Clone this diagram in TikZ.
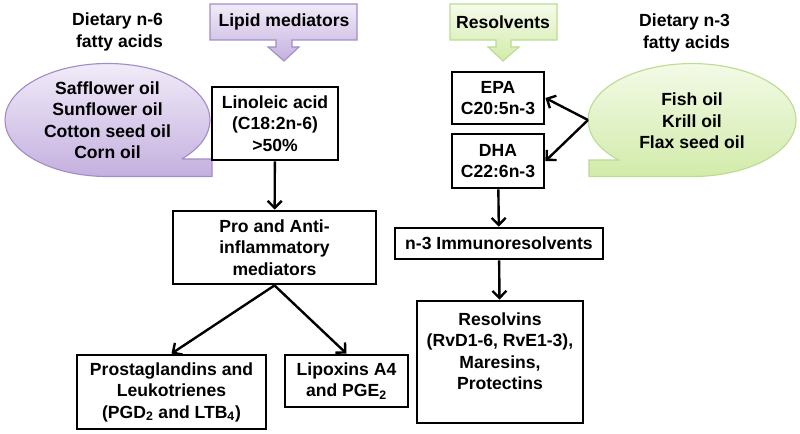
\documentclass[tikz,border=0pt]{standalone}
\usepackage{fontspec}
\setmainfont{Liberation Sans}
\usetikzlibrary{arrows.meta}
\definecolor{lilaL}{HTML}{F1EBF8}
\definecolor{lilaD}{HTML}{C4B0DF}
\definecolor{lilaR}{HTML}{A28DC8}
\definecolor{gruenL}{HTML}{F5FBEA}
\definecolor{gruenD}{HTML}{D2EBAA}
\definecolor{gruenR}{HTML}{BBDC92}
\begin{document}
\begin{tikzpicture}[x=0.025cm,y=-0.025cm,>={Straight Barb[length=5pt,width=10pt]},
   font=\bfseries\fontsize{12.5}{15.3}\selectfont,
   box/.style={draw,line width=2pt,align=center,inner sep=0pt},
   conn/.style={->,line width=1.7pt},
   lila/.style={draw=lilaR,line width=0.8pt,top color=lilaL,bottom color=lilaD},
   gruen/.style={draw=gruenR,line width=0.8pt,top color=gruenL,bottom color=gruenD}]
   \useasboundingbox (0,0) rectangle (800,433);

   % n-6 side
   \node [anchor=east,align=right] (diet6) at (168,32) {Dietary n-6\\fatty acids};
   \draw [lila] (210,4) -- (357,4) -- (357,40) -- (292,40) -- (292,47) -- (299,47)
      -- (284,61) -- (268,47) -- (276,47) -- (276,40) -- (210,40) -- cycle;
   \node (lipid) at (284,22) {Lipid mediators};
   \draw [lila] (183,159) -- (212,159) -- (212,176.5) -- (107.5,176.5)
      arc [start angle=90,end angle=403,x radius=102.5,y radius=56.5] -- cycle;
   \node [align=center] (oil6) at (107.5,120) {Safflower oil\\Sunflower oil\\Cotton seed oil\\Corn oil};

   \node [box,minimum width=3.15cm,minimum height=1.825cm] (linoleic) at (275,123.5) {Linoleic acid\\(C18:2n-6)\\>50\%};
   \node [box,minimum width=5.075cm,minimum height=1.825cm] (pro) at (274.5,247.5) {Pro and Anti-\\inflammatory\\mediators};
   \node [box,minimum width=4.725cm,minimum height=1.85cm] (prosta) at (171.5,392) {Prostaglandins and\\Leukotrienes\\(PGD\textsubscript{2} and LTB\textsubscript{4})};
   \node [box,minimum width=3.075cm,minimum height=1.3cm] (lipox) at (346.5,381) {Lipoxins A4\\and PGE\textsubscript{2}};

   \draw [conn] (linoleic) -- (pro);
   \draw [conn] (pro.south) -- (prosta.north);
   \draw [conn] (pro.south) -- (lipox.north);

   % n-3 side
   \node [anchor=east,align=right] (diet3) at (735,33) {Dietary n-3\\fatty acids};
   \draw [gruen] (450,4) -- (557,4) -- (557,40) -- (511,40) -- (511,47) -- (519,47)
      -- (503,61) -- (488,47) -- (496,47) -- (496,40) -- (450,40) -- cycle;
   \node (resolv) at (503,22) {Resolvents};
   \draw [gruen] (692,176.5) -- (589,176.5) -- (589,160) -- (618.5,160)
      arc [start angle=135,end angle=450,x radius=104,y radius=56.5] -- cycle;
   \node [align=center] (oil3) at (692,121) {Fish oil\\Krill oil\\Flax seed oil};
   \coordinate (oil3tip) at (588,120);

   \node [box,minimum width=2.3cm,minimum height=1.3cm] (epa) at (498,98) {EPA\\C20:5n-3};
   \node [box,minimum width=2.3cm,minimum height=1.35cm] (dha) at (498,161) {DHA\\C22:6n-3};
   \node [box,minimum width=5.2cm,minimum height=0.775cm] (immuno) at (499,243.5) {n-3 Immunoresolvents};
   \node [box,minimum width=4.15cm,minimum height=3.05cm] (resolvins) at (500,362) {Resolvins\\(RvD1-6, RvE1-3),\\Maresins,\\Protectins\\~};

   \draw [conn] (oil3tip) -- (epa.east);
   \draw [conn] (oil3tip) -- (dha.east);
   \draw [conn] (dha) -- (immuno);
   \draw [conn] (immuno) -- (resolvins);

\end{tikzpicture}
\end{document}
